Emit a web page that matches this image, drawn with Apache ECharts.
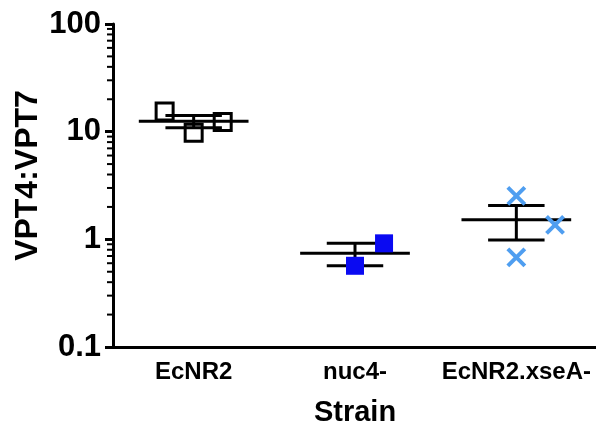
<!DOCTYPE html>
<html>
<head>
<meta charset="utf-8">
<script src="https://cdn.jsdelivr.net/npm/echarts@6/dist/echarts.min.js"></script>
<style>html,body{margin:0;padding:0;background:#fff}#c{width:596px;height:424px}</style>
</head>
<body>
<div id="c"></div>
<script>
// ---- data ----
const categories = ['EcNR2', 'nuc4-', 'EcNR2.xseA-'];
// horizontal jitter (category units) and values for each group
const ecnr2Offset = [-0.18, 0, 0.18];
const ecnr2Values = [15.4, 9.75, 12.3];
const nuc4Offset = [0.18, 0];
const nuc4Values = [0.918, 0.568];
const xseAOffset = [0, 0.24, 0];
const xseAValues = [2.53, 1.36, 0.681];
const yTickLabels = ['0.1', '1', '10', '100'];
const yMinorTicks = [0.2,0.3,0.4,0.5,0.6,0.7,0.8,0.9,2,3,4,5,6,7,8,9,20,30,40,50,60,70,80,90];

const FONT = '"Liberation Sans", Arial, Helvetica, sans-serif';

function pts(idx, offs, vals) { return vals.map((v, i) => [idx + offs[i], v]); }
function stats(vals) {
  const n = vals.length;
  const m = vals.reduce((a, b) => a + b, 0) / n;
  const sd = Math.sqrt(vals.reduce((a, b) => a + (b - m) * (b - m), 0) / (n - 1));
  const sem = sd / Math.sqrt(n);
  return [m, m - sem, m + sem];
}
const groups = [ecnr2Values, nuc4Values, xseAValues];
const errData = groups.map((g, i) => [i].concat(stats(g)));

const chart = echarts.init(document.getElementById('c'), null, { renderer: 'canvas' });
chart.setOption({
  animation: false,
  backgroundColor: '#ffffff',
  grid: { left: 113, right: -1, top: 24, bottom: 77, containLabel: false, outerBoundsMode: 'none' },
  xAxis: [{
    type: 'category',
    data: categories,
    boundaryGap: true,
    axisLine: { onZero: false, lineStyle: { color: '#000', width: 3 } },
    axisTick: { alignWithLabel: true, length: 10, lineStyle: { color: '#000', width: 3 } },
    axisLabel: { interval: 0, hideOverlap: false, color: '#000', fontFamily: FONT, fontWeight: 'bold', fontSize: 24, margin: 13 },
    name: 'Strain',
    nameLocation: 'middle',
    nameGap: 51,
    nameMoveOverlap: false,
    nameTextStyle: { color: '#000', fontFamily: FONT, fontWeight: 'bold', fontSize: 29 },
    splitLine: { show: false }
  }, {
    type: 'value', min: -0.5, max: 2.5, show: false
  }],
  yAxis: {
    type: 'log',
    logBase: 10,
    min: 0.1,
    max: 100,
    axisLine: { show: true, onZero: false, lineStyle: { color: '#000', width: 3 } },
    axisTick: { show: true, length: 8, lineStyle: { color: '#000', width: 3 } },
    axisLabel: {
      color: '#000', fontFamily: FONT, fontWeight: 'bold', fontSize: 31, margin: 12,
      formatter: function (v) {
        const s = String(+v.toPrecision(3));
        return yTickLabels.indexOf(s) >= 0 ? s : '';
      }
    },
    splitLine: { show: false },
    name: 'VPT4:VPT7',
    nameLocation: 'middle',
    nameGap: 69,
    nameMoveOverlap: false,
    nameTextStyle: { color: '#000', fontFamily: FONT, fontWeight: 'bold', fontSize: 32, padding: [0, 0, 0, 20] }
  },
  series: [
    {
      type: 'custom',
      name: 'minorTicks',
      xAxisIndex: 1,
      silent: true,
      clip: false,
      data: yMinorTicks.map(v => [-0.5, v]),
      renderItem: function (params, api) {
        const p = api.coord([api.value(0), api.value(1)]);
        return { type: 'line', shape: { x1: p[0] - 6, y1: p[1], x2: p[0], y2: p[1] },
          style: { stroke: '#000', lineWidth: 2 } };
      }
    },
    {
      type: 'custom',
      name: 'meanSem',
      xAxisIndex: 1,
      z: 3,
      data: errData,
      renderItem: function (params, api) {
        const c = api.value(0), m = api.value(1), lo = api.value(2), hi = api.value(3);
        const a = api.coord([c - 0.34, m]), b = api.coord([c + 0.34, m]);
        const l1 = api.coord([c - 0.175, lo]), l2 = api.coord([c + 0.175, lo]);
        const h1 = api.coord([c - 0.175, hi]), h2 = api.coord([c + 0.175, hi]);
        const v1 = api.coord([c, lo]), v2 = api.coord([c, hi]);
        const st = { stroke: '#000', lineWidth: 3 };
        return { type: 'group', children: [
          { type: 'line', shape: { x1: a[0], y1: a[1], x2: b[0], y2: b[1] }, style: st },
          { type: 'line', shape: { x1: l1[0], y1: l1[1], x2: l2[0], y2: l2[1] }, style: st },
          { type: 'line', shape: { x1: h1[0], y1: h1[1], x2: h2[0], y2: h2[1] }, style: st },
          { type: 'line', shape: { x1: v1[0], y1: v1[1], x2: v2[0], y2: v2[1] }, style: st }
        ] };
      }
    },
    {
      type: 'scatter', name: 'EcNR2', xAxisIndex: 1, z: 2,
      data: pts(0, ecnr2Offset, ecnr2Values),
      symbol: 'rect', symbolSize: 17,
      itemStyle: { color: 'rgba(0,0,0,0)', borderColor: '#000', borderWidth: 3, opacity: 1 }
    },
    {
      type: 'scatter', name: 'nuc4-', xAxisIndex: 1, z: 4,
      data: pts(1, nuc4Offset, nuc4Values),
      symbol: 'rect', symbolSize: 18,
      itemStyle: { color: '#0a0af2', opacity: 1 }
    },
    {
      type: 'scatter', name: 'EcNR2.xseA-', xAxisIndex: 1, z: 4,
      data: pts(2, xseAOffset, xseAValues),
      symbol: 'path://M0,0L10,10M10,0L0,10', symbolSize: 17,
      itemStyle: { color: 'rgba(0,0,0,0)', borderColor: '#4f9ef0', borderWidth: 4, opacity: 1 }
    }
  ]
});
</script>
</body>
</html>
